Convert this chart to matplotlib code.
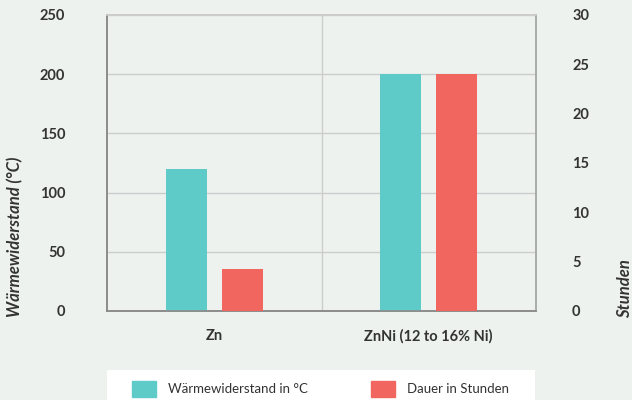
import matplotlib.pyplot as plt
from matplotlib.patches import Patch, Rectangle

# data
categories = ["Zn", "ZnNi (12 to 16% Ni)"]
heat_resistance = [120, 200]   # °C, left axis
duration_hours = [4.3, 24]     # hours, right axis

teal = "#5ECBC8"
red = "#F1665E"
bg = "#EDF2EF"
text_col = "#333333"

plt.rcParams["font.family"] = ["Lato", "DejaVu Sans"]

fig = plt.figure(figsize=(6.32, 4.0), dpi=100, facecolor=bg)
ax = fig.add_axes([107 / 632, 1 - 311 / 400, (536 - 107) / 632, (311 - 15) / 400])
ax.set_facecolor(bg)
ax2 = ax.twinx()

x = list(range(len(categories)))
w = 0.19
off = 0.13
ax.bar([i - off for i in x], heat_resistance, width=w, color=teal, zorder=3)
ax2.bar([i + off for i in x], duration_hours, width=w, color=red, zorder=3)

ax.set_xlim(-0.5, 1.5)
ax.set_ylim(0, 250)
ax2.set_ylim(0, 30)
ax.set_yticks([0, 50, 100, 150, 200, 250])
ax2.set_yticks([0, 5, 10, 15, 20, 25, 30])
ax.set_xticks(x)
ax.set_xticklabels(categories)

ax.grid(axis="y", color="#CCCCCC", linewidth=1, zorder=0)
ax.axvline(0.5, color="#CCCCCC", linewidth=1, zorder=0)

for a in (ax, ax2):
    a.tick_params(length=0, labelsize=10.5, labelcolor=text_col)
    for lab in a.get_yticklabels() + a.get_xticklabels():
        lab.set_fontweight("bold")
ax.tick_params(axis="y", pad=30)
ax.tick_params(axis="x", pad=13)
ax2.tick_params(axis="y", pad=26)

for a in (ax, ax2):
    a.spines["left"].set_color("#8C8C8C")
    a.spines["bottom"].set_color("#8C8C8C")
    a.spines["top"].set_color("#CCCCCC")
    a.spines["right"].set_color("#AAAAAA")
    for s in a.spines.values():
        s.set_linewidth(1.2)

fig.text(15 / 632, 1 - 317 / 400, "Wärmewiderstand (°C)", rotation=90,
         ha="center", va="bottom", fontsize=12, fontweight="bold",
         fontstyle="italic", color=text_col)
fig.text(625 / 632, 1 - 318 / 400, "Stunden", rotation=90,
         ha="center", va="bottom", fontsize=12, fontweight="bold",
         fontstyle="italic", color=text_col)

# legend box
fig.patches.append(Rectangle((107 / 632, 0), (535 - 107) / 632, 30 / 400,
                             transform=fig.transFigure, facecolor="white",
                             edgecolor="none", zorder=0))
handles = [Patch(color=teal, label="Wärmewiderstand in °C"),
           Patch(color=red, label="Dauer in Stunden")]
fig.legend(handles=handles, loc="center left",
           bbox_to_anchor=(120 / 632, 1 - 389 / 400), ncol=2, frameon=False,
           fontsize=9.5, labelcolor=text_col, handlelength=1.8,
           handleheight=1.5, handletextpad=0.9, columnspacing=4.85)

fig.savefig("out.png", dpi=100, facecolor=bg)
